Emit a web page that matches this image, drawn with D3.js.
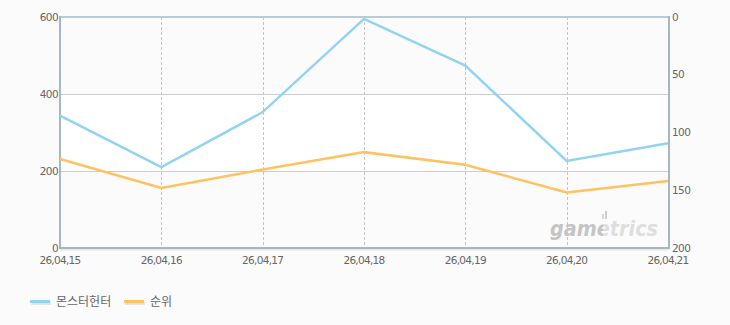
<!DOCTYPE html>
<html><head><meta charset="utf-8">
<script src="https://cdn.jsdelivr.net/npm/d3@7"></script>
<style>
html,body{margin:0;padding:0;background:#fbfbfb;}
svg{display:block;font-family:"Noto Sans CJK KR","DejaVu Sans",sans-serif;}
</style></head>
<body>
<svg id="c" width="730" height="325"></svg>
<script>
const categories = ["26,04,15","26,04,16","26,04,17","26,04,18","26,04,19","26,04,20","26,04,21"];
const seriesNames = ["몬스터헌터","순위"];
const gameValues = [344, 210, 353, 595, 474, 226, 272];
const rankValues = [123, 148, 132, 117, 128, 152, 142];
const leftTicks = [0, 200, 400, 600];
const rightTicks = [0, 50, 100, 150, 200];
const colors = ["#92d3f2", "#ffc260"];

const svg = d3.select("#c");
const L = 60, R = 668, T = 17, B = 248;
const x = d3.scalePoint().domain(categories).range([L, R]);
const yL = d3.scaleLinear().domain([0, 600]).range([B, T]);
const yR = d3.scaleLinear().domain([0, 200]).range([T, B]);

// background bands
const bands = [[400,600,"#fbfbfb"],[200,400,"#ffffff"],[0,200,"#fbfbfb"]];
svg.selectAll("rect.band").data(bands).enter().append("rect")
  .attr("x", L).attr("width", R - L)
  .attr("y", d => yL(d[1])).attr("height", d => yL(d[0]) - yL(d[1]))
  .attr("fill", d => d[2]);

// horizontal grid
svg.selectAll("line.hg").data([200, 400]).enter().append("line")
  .attr("x1", L).attr("x2", R).attr("y1", d => yL(d) + 0.5).attr("y2", d => yL(d) + 0.5)
  .attr("stroke", "#cccccc").attr("stroke-width", 1);

// vertical dashed grid
svg.selectAll("line.vg").data(categories.slice(1, -1)).enter().append("line")
  .attr("x1", d => Math.round(x(d)) + 0.5).attr("x2", d => Math.round(x(d)) + 0.5)
  .attr("y1", T).attr("y2", B)
  .attr("stroke", "#c4c4c4").attr("stroke-dasharray", "3,2").attr("stroke-width", 1);

// watermark
const grad = svg.append("defs").append("linearGradient").attr("id", "wmg")
  .attr("gradientUnits", "userSpaceOnUse").attr("x1", 550).attr("x2", 658).attr("y1", 0).attr("y2", 0);
grad.append("stop").attr("offset", "0.49").attr("stop-color", "#c4c4c4");
grad.append("stop").attr("offset", "0.49").attr("stop-color", "#dedede");
svg.append("text").attr("x", 550).attr("y", 236)
  .attr("font-family", "'DejaVu Sans', sans-serif").attr("font-size", 21)
  .attr("font-weight", "bold").attr("font-style", "italic")
  .attr("textLength", 108).attr("lengthAdjust", "spacingAndGlyphs")
  .attr("fill", "url(#wmg)").text("gametrics");
svg.append("rect").attr("x", 602).attr("y", 214).attr("width", 2).attr("height", 5).attr("fill", "#d8d8d8");
svg.append("rect").attr("x", 605).attr("y", 211).attr("width", 2).attr("height", 8).attr("fill", "#cfcfcf");

// frame
svg.append("line").attr("x1", L).attr("x2", R).attr("y1", T).attr("y2", T).attr("stroke", "#b9cbde").attr("stroke-width", 2);
svg.append("line").attr("x1", L).attr("x2", R + 1).attr("y1", B + 1.5).attr("y2", B + 1.5).attr("stroke", "#e6e6e6").attr("stroke-width", 2);
svg.append("line").attr("x1", L).attr("x2", R + 1).attr("y1", B).attr("y2", B).attr("stroke", "#a5b6c9").attr("stroke-width", 2);
svg.append("line").attr("x1", L).attr("x2", L).attr("y1", T - 1).attr("y2", B + 1).attr("stroke", "#a5b6c9").attr("stroke-width", 2);
svg.append("line").attr("x1", R + 1).attr("x2", R + 1).attr("y1", T - 1).attr("y2", B + 1).attr("stroke", "#a5b6c9").attr("stroke-width", 2);

// lines
const lineL = d3.line().x((d, i) => x(categories[i])).y(d => yL(d));
const lineR = d3.line().x((d, i) => x(categories[i])).y(d => yR(d));
svg.append("path").datum(gameValues).attr("d", lineL).attr("fill", "none")
  .attr("stroke", colors[0]).attr("stroke-width", 2.5).attr("stroke-linejoin", "miter");
svg.append("path").datum(rankValues).attr("d", lineR).attr("fill", "none")
  .attr("stroke", colors[1]).attr("stroke-width", 2.5).attr("stroke-linejoin", "miter");

// axes labels
const tc = "#666666";
svg.selectAll("text.yl").data(leftTicks).enter().append("text")
  .attr("x", L - 2).attr("y", d => yL(d) + 3.5).attr("text-anchor", "end")
  .attr("font-size", 10.5).attr("fill", tc).attr("font-family", "'DejaVu Sans', sans-serif").attr("letter-spacing", -0.6).text(d => d);
svg.selectAll("text.yr").data(rightTicks).enter().append("text")
  .attr("x", R + 4).attr("y", d => yR(d) + 3.5).attr("text-anchor", "start")
  .attr("font-size", 10.5).attr("fill", tc).attr("font-family", "'DejaVu Sans', sans-serif").attr("letter-spacing", -0.6).text(d => d);
svg.selectAll("text.xl").data(categories).enter().append("text")
  .attr("x", d => x(d)).attr("y", 264).attr("text-anchor", "middle")
  .attr("font-size", 10.5).attr("fill", tc).attr("font-family", "'DejaVu Sans', sans-serif").attr("letter-spacing", -0.7).text(d => d);

// legend
const leg = [{x: 30, name: seriesNames[0], c: colors[0]}, {x: 124, name: seriesNames[1], c: colors[1]}];
leg.forEach(l => {
  svg.append("rect").attr("x", l.x + 1).attr("y", 302).attr("width", 20).attr("height", 3).attr("fill", "#e4e4e4");
  svg.append("rect").attr("x", l.x).attr("y", 300).attr("width", 20).attr("height", 3).attr("fill", l.c);
  svg.append("text").attr("x", l.x + 26).attr("y", 306).attr("font-size", 12).attr("fill", tc).text(l.name);
});
</script>
</body></html>
